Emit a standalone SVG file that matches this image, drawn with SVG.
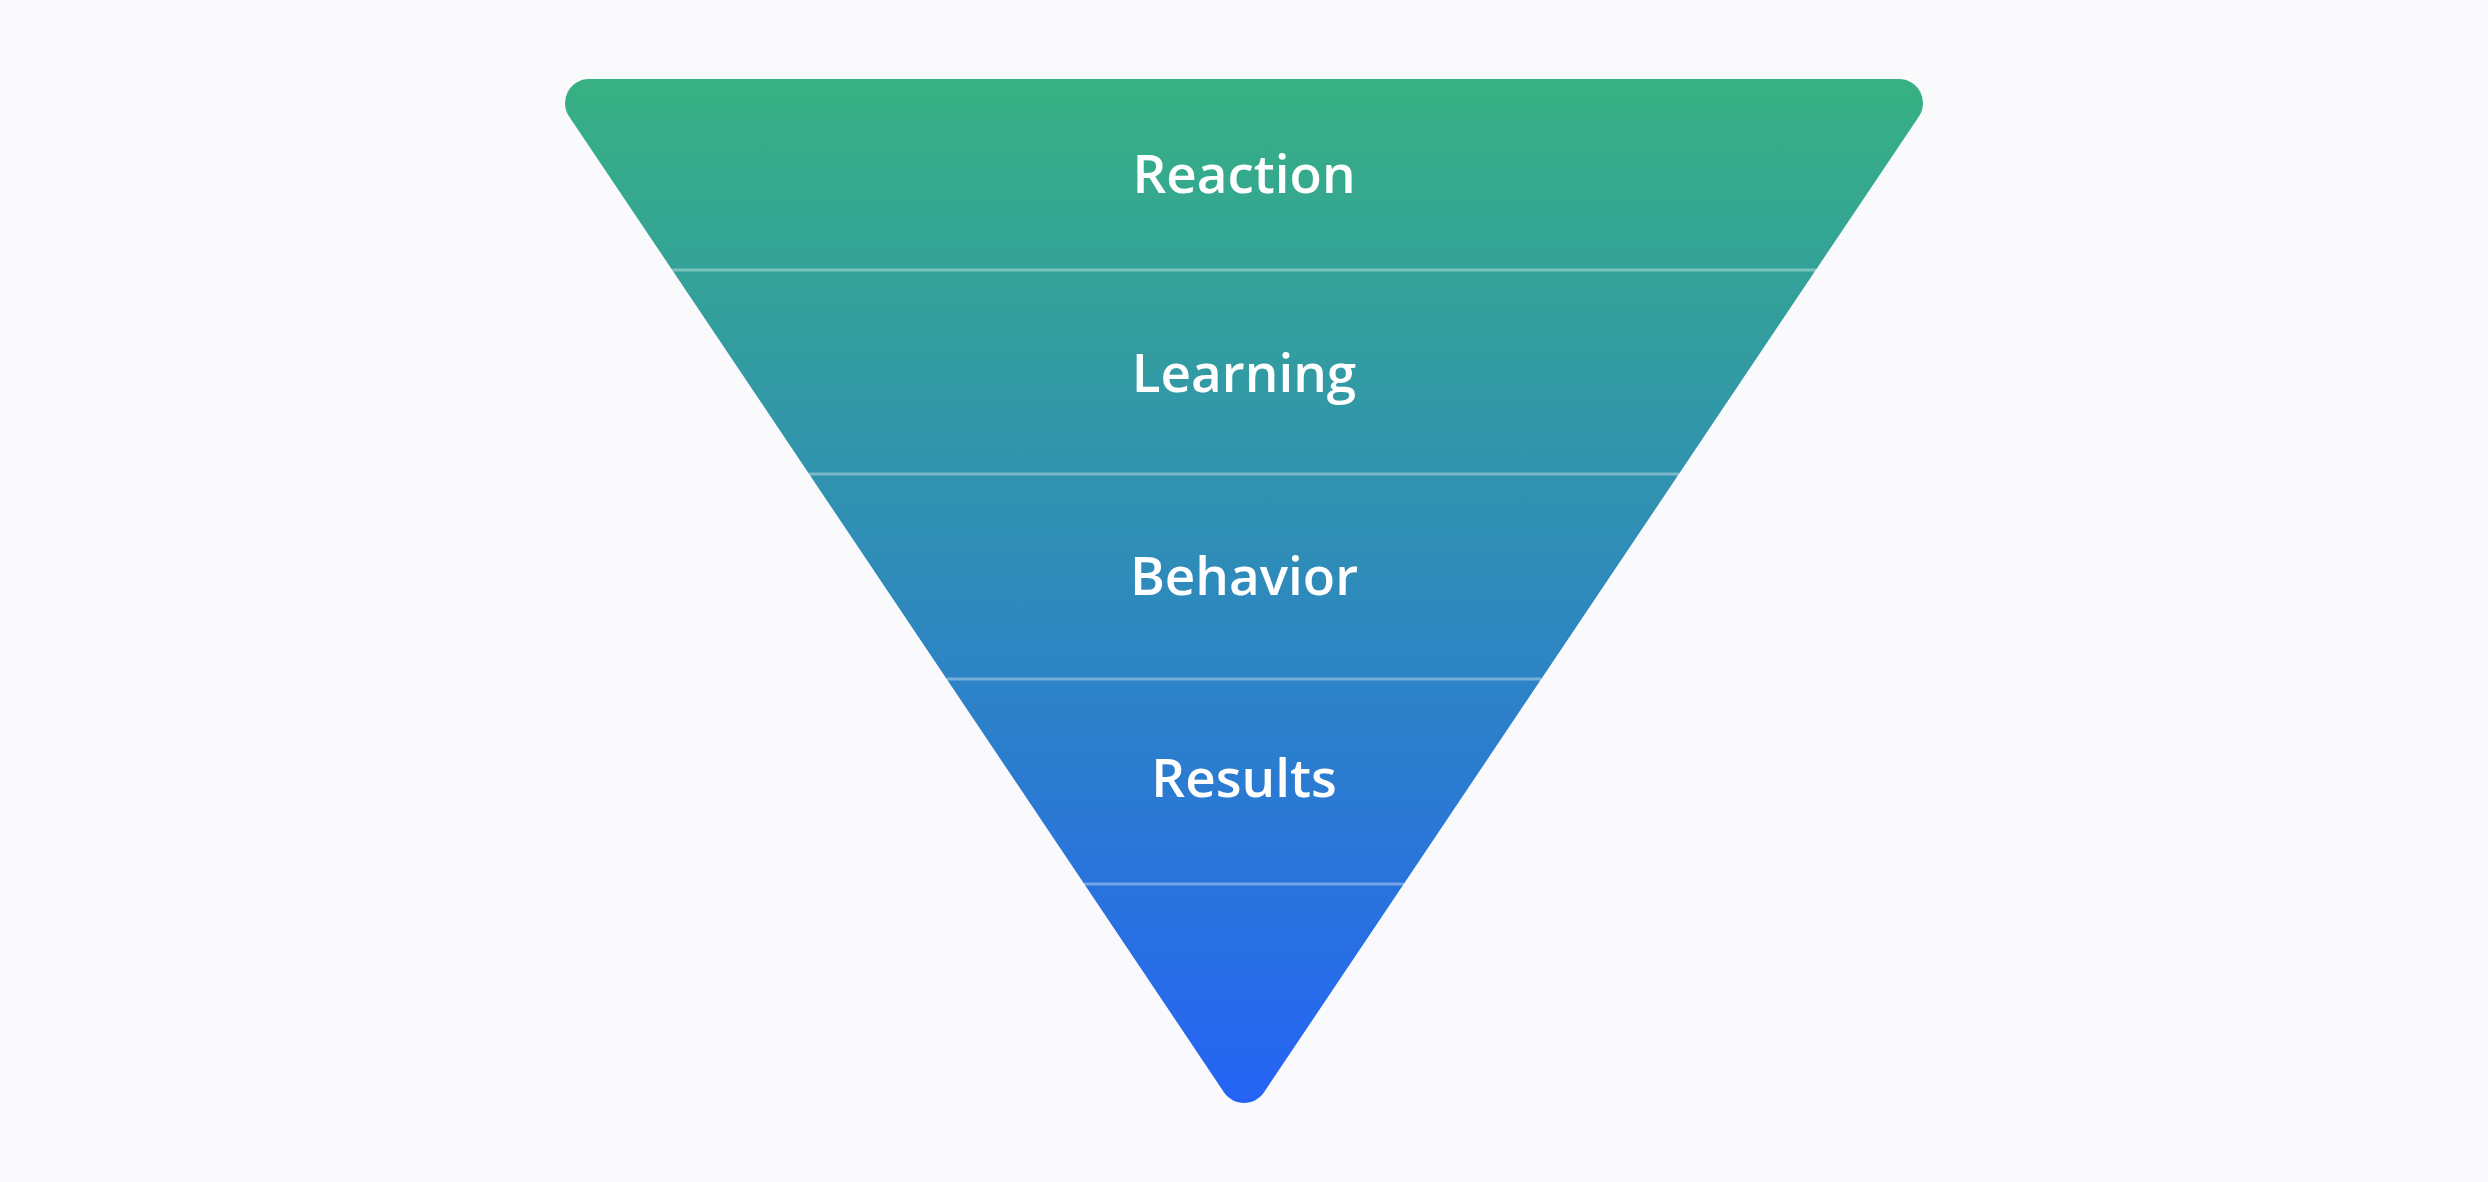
<svg xmlns="http://www.w3.org/2000/svg" width="2488" height="1182" viewBox="0 0 2488 1182">
  <defs>
    <linearGradient id="funnelGrad" gradientUnits="userSpaceOnUse" x1="0" y1="79" x2="0" y2="1103">
      <stop offset="0" stop-color="#37B182"/>
      <stop offset="1" stop-color="#2563F5"/>
    </linearGradient>
  </defs>
  <style>
    .label { font-family: "Open Sans", "Liberation Sans", sans-serif; font-weight: 600; font-size: 53px; fill: #FFFFFF; text-anchor: middle; }
    .divider { stroke: #FFFFFF; stroke-opacity: 0.35; stroke-width: 3; }
  </style>
  <rect x="0" y="0" width="2488" height="1182" fill="#FAFAFD"/>
  <g id="funnel">
    <path d="M589,79 L1899,79 A24,24 0 0 1 1918.9,116.4 L1263.9,1092.4 A24,24 0 0 1 1224.1,1092.4 L569.1,116.4 A24,24 0 0 1 589,79 Z" fill="url(#funnelGrad)"/>
  </g>
  <g id="dividers">
    <line class="divider" x1="672" y1="270" x2="1816" y2="270"/>
    <line class="divider" x1="809" y1="474" x2="1679" y2="474"/>
    <line class="divider" x1="947" y1="679" x2="1541" y2="679"/>
    <line class="divider" x1="1084" y1="884" x2="1404" y2="884"/>
  </g>
  <g id="reaction"><text class="label" x="1244" y="193">Reaction</text></g>
  <g id="learning"><text class="label" x="1244" y="392">Learning</text></g>
  <g id="behavior"><text class="label" x="1244" y="595">Behavior</text></g>
  <g id="results"><text class="label" x="1244" y="797">Results</text></g>
</svg>
